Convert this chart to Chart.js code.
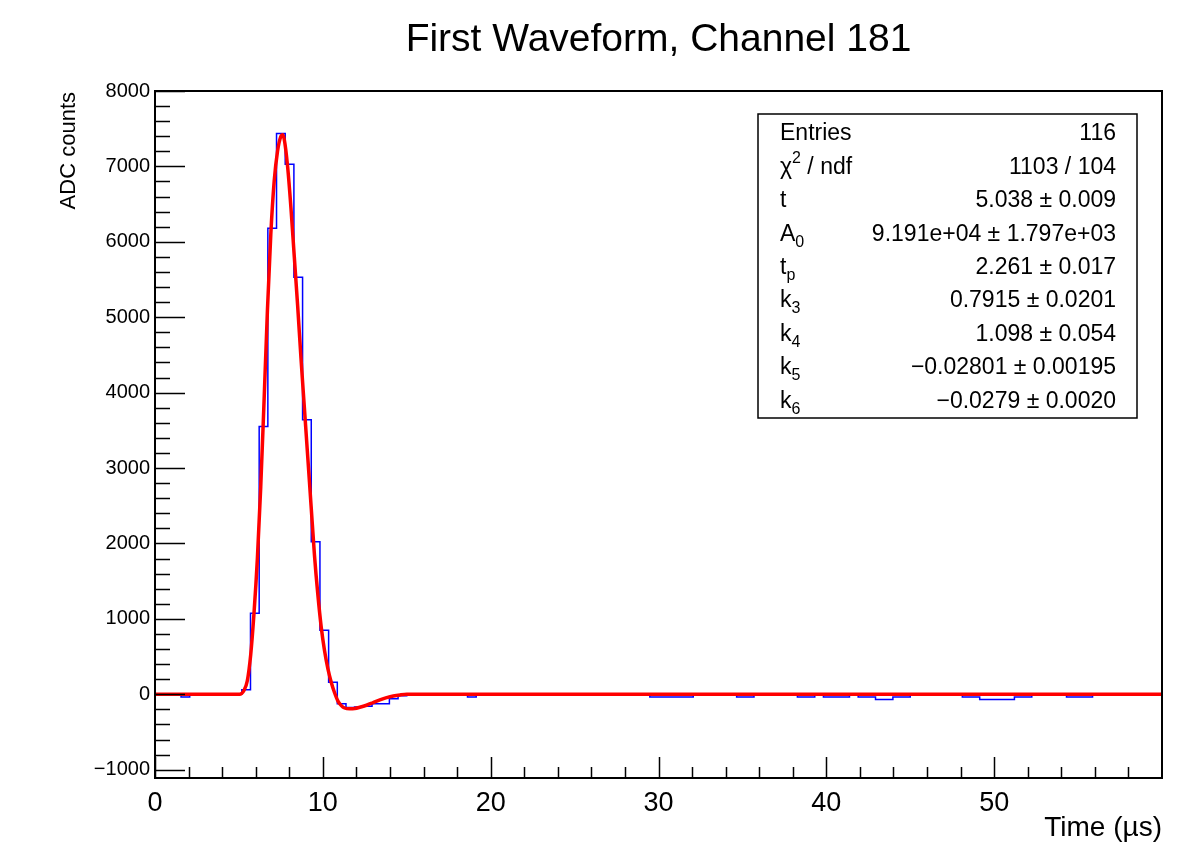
<!DOCTYPE html>
<html lang="en">
<head>
  <meta charset="UTF-8" />
  <title>First Waveform, Channel 181</title>
  <style>
    * { margin: 0; padding: 0; box-sizing: border-box; }
    html, body { width: 1189px; height: 842px; background: #fff; overflow: hidden; }
    #wrap { width: 1189px; height: 842px; position: relative; }
  </style>
</head>
<body>
  <div id="wrap"><canvas id="grafico" width="1189" height="842"></canvas></div>
  <script src="https://cdn.jsdelivr.net/npm/chart.js"></script>
  <script>
    // waveform: 116 bins over 0..60 us
    const timeMin = 0, timeMax = 60;
    const binCounts = [
      0, 0, 0, -35, 0, 0, 0, 0, 0, 0,
      60, 1075, 3550, 6180, 7438, 7030, 5530, 3640, 2024, 850,
      160, -125, -175, -170, -160, -125, -125, -60, -20, 0,
      0, 0, 0, 0, 0, 0, -35, 0, 0, 0,
      0, 0, 0, 0, 0, 0, 0, 0, 0, 0,
      0, 0, 0, 0, 0, 0, 0, -35, -35, -35,
      -35, -35, 0, 0, 0, 0, 0, -35, -35, 0,
      0, 0, 0, 0, -35, -35, 0, -35, -35, -35,
      0, -35, -35, -70, -70, -35, -35, 0, 0, 0,
      0, 0, 0, -35, -35, -70, -70, -70, -70, -35,
      -35, 0, 0, 0, 0, -35, -35, -35, 0, 0,
      0, 0, 0, 0, 0, 0
    ];

    // fitted pulse shape
    const fitTime = [0, 5.04, 5.3, 5.5, 5.7, 5.9, 6.1, 6.3, 6.5, 6.7,
      6.9, 7.1, 7.3, 7.5, 7.6, 7.7, 7.9, 8.1, 8.3, 8.5,
      8.7, 8.9, 9.1, 9.3, 9.5, 9.7, 9.9, 10.1, 10.3, 10.5,
      10.7, 10.9, 11.1, 11.3, 11.6, 11.9, 12.2, 12.6, 13.0, 13.4,
      13.8, 14.2, 14.6, 15.0, 60];
    const fitValue = [0, 0, 50, 180, 520, 1080, 1800, 2750, 3900, 5100,
      6100, 6800, 7200, 7400, 7420, 7360, 7000, 6450, 5800, 5150,
      4450, 3800, 3150, 2500, 1850, 1330, 900, 580, 340, 160,
      20, -90, -150, -182, -192, -188, -172, -145, -110, -75,
      -45, -22, -8, 0, 0];

    const xMajor = [0, 10, 20, 30, 40, 50];
    const yMajor = [-1000, 0, 1000, 2000, 3000, 4000, 5000, 6000, 7000, 8000];

    const statLabels = ['Entries', 'χ^2 / ndf', 't', 'A_0', 't_p', 'k_3', 'k_4', 'k_5', 'k_6'];
    const statValues = ['116', '1103 / 104', '5.038 ± 0.009', '9.191e+04 ± 1.797e+03',
      '2.261 ± 0.017', '0.7915 ± 0.0201', '1.098 ± 0.054', '−0.02801 ± 0.00195', '−0.0279 ± 0.0020'];

    const FONT = '"Liberation Sans", Arial, sans-serif';

    // histogram outline: one point per bin left edge, plus closing edge
    const binWidth = (timeMax - timeMin) / binCounts.length;
    const histPoints = binCounts.map((v, i) => ({ x: timeMin + i * binWidth, y: v }));
    histPoints.push({ x: timeMax, y: binCounts[binCounts.length - 1] });
    const fitPoints = fitTime.map((t, i) => ({ x: t, y: fitValue[i] }));

    const minus = s => String(s).replace('-', '−');

    // draws text with _x subscripts and ^x superscripts
    function richText(ctx, str, x, y, size) {
      let cx = x;
      for (let i = 0; i < str.length; i++) {
        const c = str[i];
        if ((c === '_' || c === '^') && i + 1 < str.length) {
          const s = str[++i];
          ctx.font = `${Math.round(size * 0.7)}px ${FONT}`;
          ctx.fillText(s, cx, y + (c === '_' ? size * 0.35 : -size * 0.4));
          cx += ctx.measureText(s).width;
          ctx.font = `${size}px ${FONT}`;
        } else {
          ctx.fillText(c, cx, y);
          cx += ctx.measureText(c).width;
        }
      }
    }

    const rootFrame = {
      id: 'rootFrame',
      afterDatasetsDraw(chart) {
        const { ctx, chartArea: a, scales: { x, y } } = chart;
        ctx.save();
        ctx.strokeStyle = '#000';
        ctx.lineWidth = 1.5;
        ctx.beginPath();
        // y ticks, inward
        for (let i = -5; i <= 40; i++) {
          const py = Math.round(y.getPixelForValue(i * 200)) + 0.5;
          if (py < a.top || py > a.bottom) continue;
          const len = i % 5 === 0 ? 30 : 15;
          ctx.moveTo(a.left, py);
          ctx.lineTo(a.left + len, py);
        }
        // x ticks, inward
        for (let i = 0; i < 30; i++) {
          const px = Math.round(x.getPixelForValue(i * 2)) + 0.5;
          const len = i % 5 === 0 ? 21 : 11;
          ctx.moveTo(px, a.bottom);
          ctx.lineTo(px, a.bottom - len);
        }
        ctx.stroke();
        ctx.lineWidth = 2;
        ctx.strokeRect(a.left, a.top, a.right - a.left, a.bottom - a.top);

        // titles
        ctx.fillStyle = '#000';
        ctx.font = `39px ${FONT}`;
        ctx.textAlign = 'center';
        ctx.textBaseline = 'alphabetic';
        ctx.fillText('First Waveform, Channel 181', (a.left + a.right) / 2, 51);

        ctx.font = `28px ${FONT}`;
        ctx.textAlign = 'right';
        ctx.fillText('Time (µs)', a.right, 836);

        ctx.save();
        ctx.translate(75, a.top + 1);
        ctx.rotate(-Math.PI / 2);
        ctx.font = `22px ${FONT}`;
        ctx.textAlign = 'right';
        ctx.fillText('ADC counts', 0, 0);
        ctx.restore();

        // statistics box
        const bx = 758, by = 114, bw = 379, bh = 304;
        ctx.fillStyle = '#fff';
        ctx.fillRect(bx, by, bw, bh);
        ctx.lineWidth = 1.5;
        ctx.strokeRect(bx, by, bw, bh);
        ctx.fillStyle = '#000';
        ctx.textBaseline = 'middle';
        const size = 23;
        statLabels.forEach((lab, i) => {
          const ry = 134 + i * 33.4;
          ctx.font = `${size}px ${FONT}`;
          ctx.textAlign = 'left';
          richText(ctx, lab, 780, ry, size);
          ctx.font = `${size}px ${FONT}`;
          ctx.textAlign = 'right';
          ctx.fillText(statValues[i], 1116, ry);
        });
        ctx.restore();
      }
    };

    const ctx = document.getElementById('grafico').getContext('2d');
    new Chart(ctx, {
      type: 'line',
      data: {
        datasets: [
          {
            label: 'fit',
            data: fitPoints,
            borderColor: '#ff0000',
            borderWidth: 3.5,
            pointRadius: 0,
            cubicInterpolationMode: 'monotone',
            fill: false,
            order: 0
          },
          {
            label: 'waveform',
            data: histPoints,
            borderColor: '#0000ff',
            borderWidth: 1.5,
            pointRadius: 0,
            stepped: 'before',
            fill: false,
            order: 1
          }
        ]
      },
      options: {
        responsive: false,
        animation: false,
        events: [],
        layout: { padding: { top: 91, right: 27, bottom: 0, left: 0 } },
        plugins: { legend: { display: false }, tooltip: { enabled: false }, title: { display: false } },
        scales: {
          x: {
            type: 'linear',
            min: timeMin,
            max: timeMax,
            afterBuildTicks: s => { s.ticks = xMajor.map(v => ({ value: v })); },
            afterFit: s => { s.height = 64; },
            grid: { display: false, drawTicks: false },
            border: { display: false },
            ticks: {
              autoSkip: false, maxRotation: 0, padding: 9,
              color: '#000', font: { family: FONT, size: 27 },
              callback: v => String(v)
            }
          },
          y: {
            type: 'linear',
            min: -1110,
            max: 8000,
            afterBuildTicks: s => { s.ticks = yMajor.map(v => ({ value: v })); },
            afterFit: s => { s.width = 155; },
            grid: { display: false, drawTicks: false },
            border: { display: false },
            ticks: {
              autoSkip: false, padding: 5,
              color: '#000', font: { family: FONT, size: 20 },
              callback: v => minus(v)
            }
          }
        }
      },
      plugins: [rootFrame]
    });
  </script>
</body>
</html>
